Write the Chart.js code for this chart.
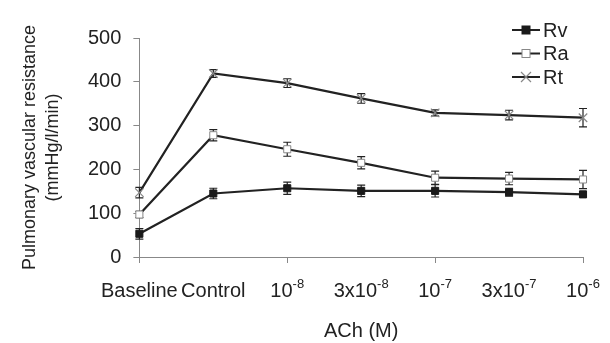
<!DOCTYPE html>
<html>
<head>
<meta charset="utf-8">
<script src="https://cdn.jsdelivr.net/npm/chart.js@4"></script>
<style>
  html, body { margin: 0; padding: 0; background: #fff; }
  #wrap { width: 610px; height: 343px; }
</style>
</head>
<body>
<div id="wrap"><canvas id="myChart" width="610" height="343"></canvas></div>
<script>
// '^' marks the superscript part of a label
const categories = ['Baseline', 'Control', '10^-8', '3x10^-8', '10^-7', '3x10^-7', '10^-6'];

const rv = [53, 145, 157, 151, 151, 148, 143];
const rvErr = [12, 12, 14, 13, 14, 9, 6];
const ra = [97, 278, 246, 215, 181, 179, 177];
const raErr = [7, 13, 16, 14, 15, 14, 21];
const rt = [147, 419, 397, 362, 329, 324, 318];
const rtErr = [12, 9, 10, 11, 7, 11, 21];

const yTicks = [0, 100, 200, 300, 400, 500];

const FONT = 'Liberation Sans, Arial, sans-serif';

// vertical error bars with caps, drawn under the markers
const errorBars = {
    id: 'errorBars',
    beforeDatasetsDraw(chart) {
        const c = chart.ctx;
        const y = chart.scales.y;
        c.save();
        c.strokeStyle = '#222';
        c.lineWidth = 1.2;
        chart.data.datasets.forEach((ds, i) => {
            const meta = chart.getDatasetMeta(i);
            meta.data.forEach((pt, j) => {
                const v = ds.data[j], e = ds.err[j];
                const top = y.getPixelForValue(v + e);
                const bot = y.getPixelForValue(v - e);
                c.beginPath();
                c.moveTo(pt.x, top); c.lineTo(pt.x, bot);
                c.moveTo(pt.x - 4, top); c.lineTo(pt.x + 4, top);
                c.moveTo(pt.x - 4, bot); c.lineTo(pt.x + 4, bot);
                c.stroke();
            });
        });
        c.restore();
    }
};

// x labels with real superscripts (the axis' own labels are left transparent)
const supLabels = {
    id: 'supLabels',
    afterDraw(chart) {
        const c = chart.ctx;
        const sx = chart.scales.x;
        const yy = sx.top + 34;
        c.save();
        c.fillStyle = '#222';
        c.textBaseline = 'middle';
        c.textAlign = 'left';
        sx.ticks.forEach((t, i) => {
            const [base, sup] = categories[i].split('^');
            c.font = '20px ' + FONT;
            const wb = c.measureText(base).width;
            c.font = '13px ' + FONT;
            const ws = sup ? c.measureText(sup).width : 0;
            const x0 = sx.getPixelForTick(i) - (wb + ws) / 2;
            c.font = '20px ' + FONT;
            c.fillText(base, x0, yy);
            if (sup) {
                c.font = '13px ' + FONT;
                c.fillText(sup, x0 + wb, yy - 7);
            }
        });
        c.restore();
    }
};

// legend: short line with marker, then the label
const lineLegend = {
    id: 'lineLegend',
    afterDraw(chart) {
        const c = chart.ctx;
        const x0 = 512, x1 = 540;
        const cx = (x0 + x1) / 2;
        c.save();
        c.font = '20px ' + FONT;
        c.textBaseline = 'middle';
        chart.data.datasets.forEach((ds, i) => {
            const yy = 30 + i * 23.5;
            c.strokeStyle = ds.borderColor;
            c.lineWidth = 2;
            c.beginPath(); c.moveTo(x0, yy); c.lineTo(x1, yy); c.stroke();
            c.fillStyle = ds.pointBackgroundColor;
            c.strokeStyle = ds.pointBorderColor;
            c.lineWidth = ds.pointBorderWidth;
            const r = ds.pointRadius - 1;
            if (ds.pointStyle === 'rect') {
                c.fillRect(cx - r, yy - r, 2 * r, 2 * r);
                c.strokeRect(cx - r, yy - r, 2 * r, 2 * r);
            } else {
                c.beginPath();
                c.moveTo(cx - r, yy - r); c.lineTo(cx + r, yy + r);
                c.moveTo(cx + r, yy - r); c.lineTo(cx - r, yy + r);
                c.stroke();
            }
            c.fillStyle = '#222';
            c.fillText(ds.label, x1 + 3, yy + 1);
        });
        c.restore();
    }
};

const ctx = document.getElementById('myChart').getContext('2d');
const myChart = new Chart(ctx, {
    type: 'line',
    data: {
        labels: categories,
        datasets: [{
            label: 'Rv',
            data: rv,
            err: rvErr,
            borderColor: '#222',
            borderWidth: 2.2,
            pointStyle: 'rect',
            pointRadius: 5,
            pointBackgroundColor: '#1a1a1a',
            pointBorderColor: '#1a1a1a',
            pointBorderWidth: 1
        }, {
            label: 'Ra',
            data: ra,
            err: raErr,
            borderColor: '#222',
            borderWidth: 2.2,
            pointStyle: 'rect',
            pointRadius: 5,
            pointBackgroundColor: '#fff',
            pointBorderColor: '#888',
            pointBorderWidth: 1
        }, {
            label: 'Rt',
            data: rt,
            err: rtErr,
            borderColor: '#222',
            borderWidth: 2.2,
            pointStyle: 'crossRot',
            pointRadius: 6,
            pointBackgroundColor: '#888',
            pointBorderColor: '#888',
            pointBorderWidth: 1.2
        }]
    },
    options: {
        responsive: false,
        animation: false,
        events: [],
        layout: { padding: { top: 38, right: 27, left: 19, bottom: 0 } },
        plugins: { legend: { display: false }, tooltip: { enabled: false } },
        scales: {
            x: {
                offset: false,
                grid: {
                    drawOnChartArea: false,
                    tickLength: 6,
                    color: c => c.index % 2 === 0 ? '#888' : 'rgba(0,0,0,0)'
                },
                border: { color: '#888', width: 1 },
                ticks: {
                    autoSkip: false,
                    maxRotation: 0,
                    color: 'rgba(0,0,0,0)',
                    padding: 14,
                    callback: (v, i) => categories[i].split('^')[0],
                    font: { family: FONT, size: 20 }
                },
                title: {
                    display: true,
                    text: 'ACh (M)',
                    color: '#222',
                    padding: { top: 4, bottom: 0 },
                    font: { family: FONT, size: 20 }
                }
            },
            y: {
                min: 0,
                max: 500,
                afterBuildTicks: axis => { axis.ticks = yTicks.map(v => ({ value: v })); },
                grid: { drawOnChartArea: false, tickLength: 6, color: '#888' },
                border: { color: '#888', width: 1 },
                ticks: {
                    color: '#222',
                    padding: 12,
                    font: { family: FONT, size: 20 }
                },
                title: {
                    display: true,
                    text: ['Pulmonary vascular resistance', '(mmHg/l/min)'],
                    color: '#222',
                    padding: { top: 0, bottom: 12 },
                    font: { family: FONT, size: 18, lineHeight: 1.25 }
                }
            }
        }
    },
    plugins: [errorBars, supLabels, lineLegend]
});
</script>
</body>
</html>
